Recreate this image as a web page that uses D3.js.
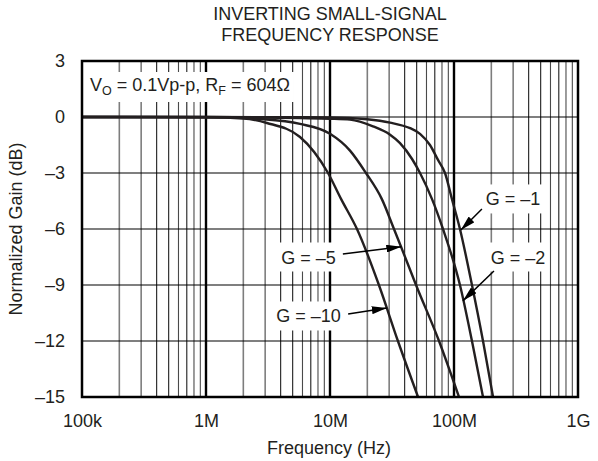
<!DOCTYPE html>
<html><head><meta charset="utf-8">
<script src="https://cdn.jsdelivr.net/npm/d3@7"></script>
<style>
body{margin:0;background:#fff}
svg{display:block}
text{font-family:"Liberation Sans",Arial,Helvetica,sans-serif;fill:#231f20}
</style>
</head><body>
<svg id="c" width="598" height="461"></svg>
<script>
// ---- data ----
const freqTicks = [1e5, 1e6, 1e7, 1e8, 1e9];
const freqTickLabels = ["100k", "1M", "10M", "100M", "1G"];
const gainTicks = [3, 0, -3, -6, -9, -12, -15];
const gainTickLabels = ["3", "0", "\u20133", "\u20136", "\u20139", "\u201312", "\u201315"];

const g1Freq = [1e5, 1e6, 1e7, 19.9e6, 30.5e6, 44.2e6, 53.2e6, 64.0e6, 74.3e6, 84.6e6, 96.3e6, 111.7e6, 139.6e6, 171.4e6, 206.5e6];
const g1Gain = [0, 0, -0.02, -0.12, -0.3, -0.6, -0.9, -1.5, -2.3, -3.0, -4.4, -6.0, -9.0, -12.0, -15.0];

const g2Freq = [1e5, 1e6, 2.72e6, 5.73e6, 10e6, 14.5e6, 22.2e6, 30.5e6, 36.7e6, 45.9e6, 53.2e6, 66.5e6, 81.5e6, 111.7e6, 139.6e6, 171.4e6];
const g2Gain = [0, 0, -0.03, -0.06, -0.09, -0.14, -0.5, -0.95, -1.4, -2.25, -3.0, -4.4, -6.0, -9.0, -12.0, -15.0];

const g5Freq = [1e5, 1e6, 1.56e6, 2.72e6, 5.73e6, 10e6, 14.5e6, 19.5e6, 26.2e6, 32.8e6, 37.4e6, 49.4e6, 75.7e6, 109.7e6];
const g5Gain = [0, -0.01, -0.03, -0.1, -0.37, -0.9, -1.8, -3.0, -4.4, -6.0, -6.95, -9.0, -12.0, -15.0];

const g10Freq = [1e5, 1e6, 2e6, 3.1e6, 5.73e6, 9.64e6, 12.3e6, 16.5e6, 24.8e6, 35.3e6, 51.3e6];
const g10Gain = [0, -0.02, -0.08, -0.32, -1.07, -3.0, -4.4, -6.0, -9.0, -12.0, -15.0];

const seriesNames = ["G = \u20131", "G = \u20132", "G = \u20135", "G = \u201310"];
// label centre (freq, dB), arrow tail (freq, dB), arrow tip (freq, dB)
const labelFreq = [299e6, 328e6, 6.71e6, 6.71e6];
const labelGain = [-4.39, -7.5, -7.5, -10.66];
const tailFreq = [168e6, 210e6, 12.7e6, 14e6];
const tailGain = [-4.93, -8.25, -7.34, -10.55];
const tipFreq = [113.5e6, 118e6, 37.6e6, 28.7e6];
const tipGain = [-6.05, -9.85, -6.95, -10.23];

const titleLines = ["INVERTING SMALL-SIGNAL", "FREQUENCY RESPONSE"];
const xTitle = "Frequency (Hz)";
const yTitle = "Normalized Gain (dB)";

// ---- layout ----
const L = 82, R = 578, T = 61, B = 397;
const ink = "#231f20";
const svg = d3.select("#c");
const x = d3.scaleLog().domain([1e5, 1e9]).range([L, R]);
const y = d3.scaleLinear().domain([-15, 3]).range([B, T]);

// title
svg.selectAll("text.title").data(titleLines).join("text")
  .attr("class", "title").attr("x", (L + R) / 2).attr("y", (d, i) => 20 + i * 21)
  .attr("text-anchor", "middle").attr("font-size", 18).text(d => d);

// grid
const minors = [];
[1e5, 1e6, 1e7, 1e8].forEach(d => { for (let k = 2; k <= 9; k++) minors.push({v: k * d, k}); });
const minorColor = k => (k === 2 || k === 3) ? "#7d7d7d" : (k === 4 || k === 5 || k === 7) ? "#1e1e1e" : "#4a4a4a";
const grid = svg.append("g");
grid.selectAll("line.mn").data(minors).join("line")
  .attr("x1", d => x(d.v)).attr("x2", d => x(d.v)).attr("y1", T).attr("y2", B)
  .attr("stroke", d => minorColor(d.k)).attr("stroke-width", d => (d.k <= 3 ? 1.6 : 1.1));
grid.selectAll("line.hz").data(gainTicks.slice(1, -1)).join("line")
  .attr("x1", L).attr("x2", R).attr("y1", d => y(d)).attr("y2", d => y(d))
  .attr("stroke", "#000").attr("stroke-width", 1.2);
grid.selectAll("line.mj").data(freqTicks.slice(1, -1)).join("line")
  .attr("x1", d => x(d)).attr("x2", d => x(d)).attr("y1", T).attr("y2", B)
  .attr("stroke", "#000").attr("stroke-width", 2.4);

// label backgrounds + labels (text measured first)
const labG = svg.append("g");
const labelTexts = labG.selectAll("text").data(seriesNames).join("text")
  .attr("x", (d, i) => x(labelFreq[i])).attr("y", (d, i) => y(labelGain[i]) + 6.5)
  .attr("text-anchor", "middle").attr("font-size", 18).text(d => d);
labelTexts.each(function () {
  const b = this.getBBox();
  labG.insert("rect", "text").attr("x", b.x - 4).attr("y", b.y - 5).attr("width", b.width + 8).attr("height", b.height + 9).attr("fill", "#fff");
});

// conditions annotation
const ann = svg.append("g");
const at = ann.append("text").attr("x", L + 8).attr("y", T + 30).attr("font-size", 18);
at.append("tspan").text("V");
at.append("tspan").attr("font-size", 12.5).attr("dy", 4).text("O");
at.append("tspan").attr("dy", -4).text(" = 0.1Vp-p, R");
at.append("tspan").attr("font-size", 12.5).attr("dy", 4).text("F");
at.append("tspan").attr("dy", -4).text(" = 604\u03A9");
const ab = at.node().getBBox();
ann.insert("rect", "text").attr("x", L + 2).attr("y", ab.y - 3).attr("width", ab.width + 10).attr("height", ab.height + 7).attr("fill", "#fff");

// curves
const series = [[g1Freq, g1Gain], [g2Freq, g2Gain], [g5Freq, g5Gain], [g10Freq, g10Gain]];
const line = d3.line().x(d => x(d[0])).y(d => y(d[1])).curve(d3.curveMonotoneX);
svg.append("g").selectAll("path").data(series).join("path")
  .attr("d", s => line(s[0].map((f, i) => [f, s[1][i]])))
  .attr("fill", "none").attr("stroke", ink).attr("stroke-width", 2.4).attr("stroke-linejoin", "round");

// arrows
svg.append("defs").append("marker").attr("id", "ah").attr("markerUnits", "userSpaceOnUse")
  .attr("viewBox", "0 0 15 8").attr("markerWidth", 15).attr("markerHeight", 8)
  .attr("refX", 15).attr("refY", 4).attr("orient", "auto")
  .append("path").attr("d", "M0,0L15,4L0,8Z").attr("fill", "#000");
svg.append("g").selectAll("line").data(seriesNames).join("line")
  .attr("x1", (d, i) => x(tailFreq[i])).attr("y1", (d, i) => y(tailGain[i]))
  .attr("x2", (d, i) => x(tipFreq[i])).attr("y2", (d, i) => y(tipGain[i]))
  .attr("stroke", "#000").attr("stroke-width", 1.5).attr("marker-end", "url(#ah)");

// frame
svg.append("rect").attr("x", L).attr("y", T).attr("width", R - L).attr("height", B - T)
  .attr("fill", "none").attr("stroke", "#000").attr("stroke-width", 2.5);

// axes (labels only)
const xAxis = svg.append("g").attr("transform", `translate(0,${B})`)
  .call(d3.axisBottom(x).tickValues(freqTicks).tickFormat((d, i) => freqTickLabels[i]).tickSize(0).tickPadding(17));
const yAxis = svg.append("g").attr("transform", `translate(${L},0)`)
  .call(d3.axisLeft(y).tickValues(gainTicks).tickFormat((d, i) => gainTickLabels[i]).tickSize(0).tickPadding(17));
[xAxis, yAxis].forEach(a => {
  a.select(".domain").remove();
  a.selectAll("text").attr("font-size", 18).attr("font-family", '"Liberation Sans",Arial,sans-serif').attr("fill", ink);
});

// axis titles
svg.append("text").attr("x", (L + R) / 2 - 1).attr("y", 454).attr("text-anchor", "middle")
  .attr("font-size", 18).text(xTitle);
svg.append("text").attr("transform", `translate(22,${(T + B) / 2}) rotate(-90)`)
  .attr("text-anchor", "middle").attr("font-size", 18).text(yTitle);
</script>
</body></html>
